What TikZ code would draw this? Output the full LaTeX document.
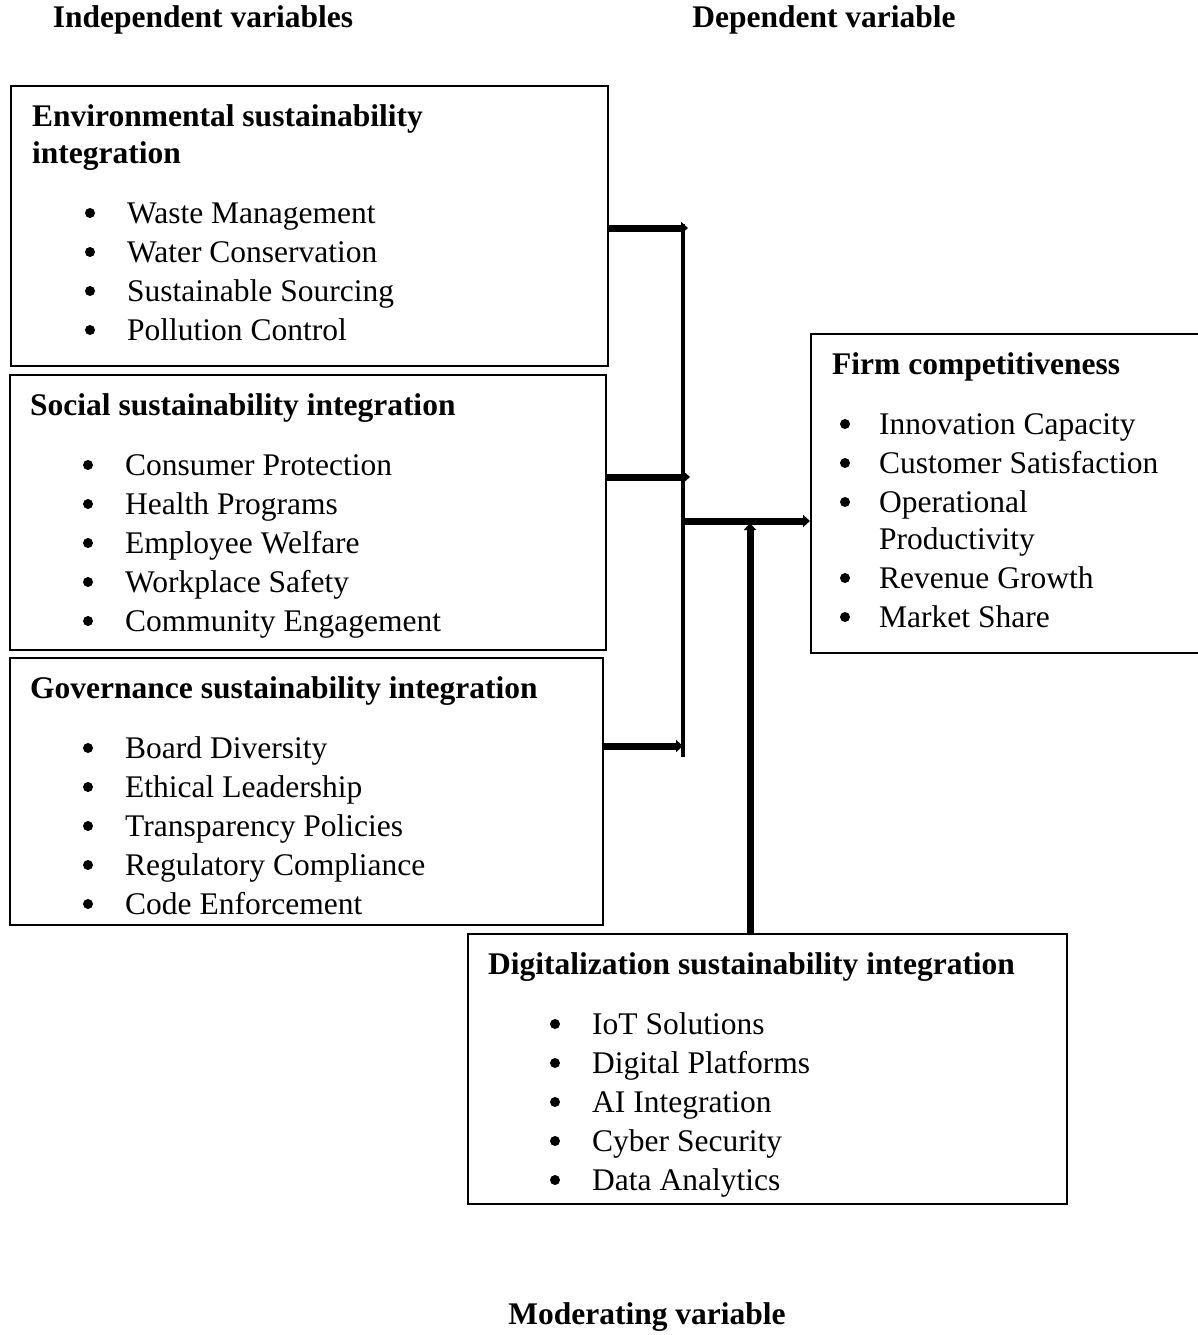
\documentclass[tikz,border=0pt]{standalone}
\usepackage{fontspec}
\setmainfont{Liberation Serif}
\usepackage{tikz}
\usetikzlibrary{arrows.meta, positioning}

\newcommand{\boxsize}{\fontsize{31.5}{39}\selectfont}

\tikzset{
  box/.style={draw, line width=2pt, anchor=north west, inner sep=0pt},
  head/.style={font=\boxsize\bfseries, anchor=base west, inner sep=0pt},
  title/.style={font=\boxsize\bfseries, inner sep=0pt},
  entry/.style={font=\boxsize, anchor=base west, inner sep=0pt},
  dot/.style={circle, fill, inner sep=0pt, minimum size=10pt},
  link/.style={line width=7pt, -{Triangle[length=7pt, width=12pt]}},
  bus/.style={line width=4pt}
}

\newcommand{\bulletlist}[5]{%
  \foreach \entry [count=\k from 0] in {#5}{
    \node[dot] (#1-dot-\k) at (#2, #4-10+39*\k) {};
    \node[entry] (#1-item-\k) at (#3, #4+39*\k) {\entry};
  }}

\begin{document}
\begin{tikzpicture}[x=1pt, y=-1pt]
      \useasboundingbox (0,0) rectangle (1198,1335);
      \node[title] (indep) at (203,20) {Independent variables};
      \node[title] (dep) at (824,20) {Dependent variable};
      \node[title] (moder) at (647,1317) {Moderating variable};

      \node[box, minimum width=597pt, minimum height=280pt] (env) at (10,85) {};
      \node[box, minimum width=596pt, minimum height=275pt] (soc) at (9,374) {};
      \node[box, minimum width=593pt, minimum height=267pt] (gov) at (9,657) {};
      \node[box, minimum width=392pt, minimum height=319pt] (firm) at (810,333) {};
      \node[box, minimum width=599pt, minimum height=270pt] (dig) at (467,933) {};

      \node[head] (env-head) at (32,127) {Environmental sustainability};
      \node[head] (env-head2) at (32,163) {integration};
      \bulletlist{env}{90}{127}{223}{Waste Management, Water Conservation, Sustainable Sourcing, Pollution Control}

      \node[head] (soc-head) at (30,415) {Social sustainability integration};
      \bulletlist{soc}{88}{125}{475}{Consumer Protection, Health Programs, Employee Welfare, Workplace Safety, Community Engagement}

      \node[head] (gov-head) at (30,698) {Governance sustainability integration};
      \bulletlist{gov}{88}{125}{758}{Board Diversity, Ethical Leadership, Transparency Policies, Regulatory Compliance, Code Enforcement}

      \node[head] (firm-head) at (832,374) {Firm competitiveness};
      \foreach \y/\entry [count=\k] in {434/Innovation Capacity, 473/Customer Satisfaction, 512/Operational, 588/Revenue Growth, 627/Market Share}{
        \node[dot] (firm-dot-\k) at (845,\y-10) {};
        \node[entry] (firm-item-\k) at (879,\y) {\entry};
      }
      \node[entry] (firm-item-wrap) at (879,549) {Productivity};

      \node[head] (dig-head) at (488,974) {Digitalization sustainability integration};
      \begin{scope}
        \clip (dig.north west) rectangle (dig.south east);
        \bulletlist{dig}{555}{592}{1034}{IoT Solutions, Digital Platforms, AI Integration, Cyber Security, Data Analytics}
      \end{scope}

      \coordinate (j1) at (688,228);
      \coordinate (j2) at (690,477);
      \coordinate (j3) at (683,746);
      \coordinate (bustop) at (683,224);
      \coordinate (busbot) at (683,757);
      \coordinate (hub) at (683,521);
      \coordinate (tap) at (750,523);
      \draw[bus] (bustop) -- (busbot);
      \draw[link] (j1 -| env.east) -- (j1);
      \draw[link] (j2 -| soc.east) -- (j2);
      \draw[link] (j3 -| gov.east) -- (j3);
      \draw[link] (hub) -- (hub -| firm.west);
      \draw[link] (tap |- dig.north) -- (tap);
    \end{tikzpicture}
\end{document}
